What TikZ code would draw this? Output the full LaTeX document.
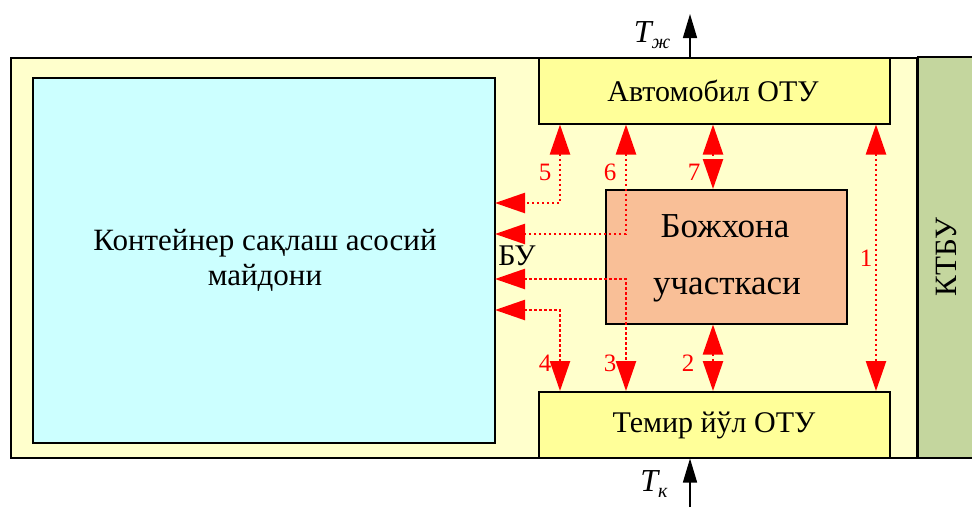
\documentclass[tikz,border=0pt]{standalone}
\usepackage{fontspec}
\setmainfont{Liberation Serif}
\usetikzlibrary{arrows.meta}
\definecolor{outerfill}{HTML}{FFFFCC}
\definecolor{cyanfill}{HTML}{CCFFFF}
\definecolor{otufill}{HTML}{FFFF99}
\definecolor{bojfill}{HTML}{F9BF97}
\definecolor{ktbufill}{HTML}{C4D69E}
\definecolor{arrred}{HTML}{FF0000}
\tikzset{
  plainbox/.style={draw=black, line width=1.5pt, anchor=north west, inner sep=0pt},
  flow/.style={draw=arrred, line width=2.4pt, dash pattern=on 2.5pt off 2.5pt,
    {Triangle[length=30pt,width=20pt]}-{Triangle[length=30pt,width=20pt]}},
  numlbl/.style={text=arrred, font=\fontsize{25}{25}\selectfont, inner sep=0pt},
  inflow/.style={draw=black, line width=1.5pt, -{Triangle[length=24pt,width=14pt]}},
  tlbl/.style={font=\fontsize{32}{32}\selectfont\itshape, inner sep=0pt}
}
\begin{document}
\begin{tikzpicture}[x=1pt,y=-1pt]
\useasboundingbox (0,0) rectangle (972,507);
% outer frame
\node[plainbox, fill=outerfill, minimum width=906pt, minimum height=400pt] (frame) at (10,57) {};
% KTBU
\node[plainbox, fill=ktbufill, minimum width=70pt, minimum height=401pt] (ktbu) at (917,56) {};
\node[rotate=90, font=\fontsize{31}{31}\selectfont, inner sep=0pt] (ktbutxt) at (946,257) {КТБУ};
% container area
\node[plainbox, fill=cyanfill, minimum width=462pt, minimum height=365pt] (cont) at (32,77) {};
\node[align=center, font=\fontsize{31}{35}\selectfont, inner sep=0pt] (conttxt) at (265,260) {Контейнер сақлаш асосий\\майдони};
% OTU boxes
\node[plainbox, fill=otufill, minimum width=351pt, minimum height=66pt] (auto) at (538,57) {};
\node[font=\fontsize{30}{30}\selectfont, inner sep=0pt] (autotxt) at (713,91) {Автомобил ОТУ};
\node[plainbox, fill=otufill, minimum width=351pt, minimum height=66pt] (rail) at (538,391) {};
\node[font=\fontsize{30}{30}\selectfont, inner sep=0pt] (railtxt) at (714,425) {Темир йўл ОТУ};
% customs
\node[plainbox, fill=bojfill, minimum width=241pt, minimum height=134pt] (boj) at (605,189) {};
\node[font=\fontsize{35}{35}\selectfont, inner sep=0pt] (bojtxt1) at (725,226) {Божхона};
\node[font=\fontsize{35}{35}\selectfont, inner sep=0pt] (bojtxt2) at (727,290) {участкаси};
% BU label
\node[font=\fontsize{30}{30}\selectfont, inner sep=0pt] (bu) at (517,256) {БУ};
% coordinates on the container edge
\coordinate (c5) at (495,203);
\coordinate (c6) at (495,234);
\coordinate (c3) at (495,279);
\coordinate (c4) at (495,310);
% flows
\draw[flow] (auto.south -| 876,0) -- (rail.north -| 876,0);
\draw[flow] (auto.south -| 713,0) -- (boj.north -| 713,0);
\draw[flow] (boj.south -| 713,0) -- (rail.north -| 713,0);
\draw[flow] (auto.south -| 560,0) -- (560,203) -- (c5);
\draw[flow] (auto.south -| 626,0) -- (626,234) -- (c6);
\draw[flow] (c3) -- (626,279) -- (rail.north -| 626,0);
\draw[flow] (c4) -- (560,310) -- (rail.north -| 560,0);
% labels
\node[numlbl] (n5) at (545,172) {5};
\node[numlbl] (n6) at (610,172) {6};
\node[numlbl] (n7) at (694,172) {7};
\node[numlbl] (n4) at (545,363) {4};
\node[numlbl] (n3) at (610,363) {3};
\node[numlbl] (n2) at (688,363) {2};
\node[numlbl] (n1) at (866,258) {1};
% external flows
\coordinate (tzhend) at (690,14);
\coordinate (tkstart) at (690,507);
\draw[inflow] (auto.north -| 690,0) -- (tzhend);
\draw[inflow] (tkstart) -- (rail.south -| 690,0);
\node[tlbl] (tzh) at (652,35) {T\raisebox{-0.4ex}{\fontsize{20}{20}\selectfont ж}};
\node[tlbl] (tk) at (654,484) {T\raisebox{-0.4ex}{\fontsize{20}{20}\selectfont к}};
\end{tikzpicture}
\end{document}
